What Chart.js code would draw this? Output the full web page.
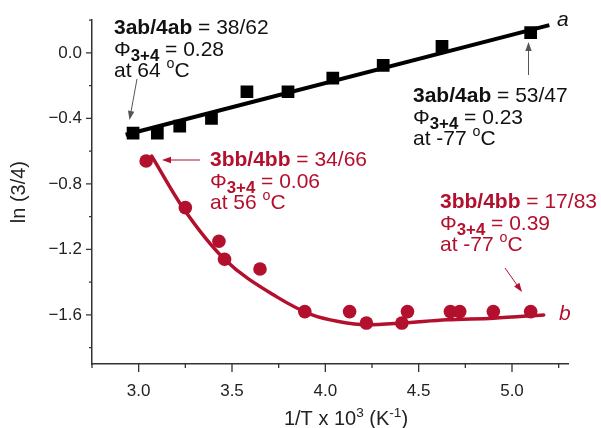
<!DOCTYPE html>
<html>
<head>
<meta charset="utf-8">
<script src="https://cdn.jsdelivr.net/npm/chart.js@4/dist/chart.umd.min.js"></script>
<style>
  html, body { margin: 0; padding: 0; background: #fff; }
  #wrap { width: 601px; height: 428px; }
</style>
</head>
<body>
<div id="wrap"><canvas id="arrChart"></canvas></div>
<script>
// tick positions
const xTicks = [3.0, 3.5, 4.0, 4.5, 5.0];
const xMinor = [2.75, 3.25, 3.75, 4.25, 4.75, 5.25];
const yTicks = [0.0, -0.4, -0.8, -1.2, -1.6];
const yMinor = [0.2, -0.2, -0.6, -1.0, -1.4, -1.8];

// series a (squares) and its straight fit
const aX = [2.97, 3.10, 3.22, 3.39, 3.58, 3.80, 4.04, 4.31, 4.625, 5.10];
const aY = [-0.49, -0.49, -0.447, -0.40, -0.237, -0.237, -0.154, -0.076, 0.04, 0.124];
const aFitX = [2.93, 5.20];
const aFitY = [-0.50, 0.17];

// series b (circles) and its curved fit
const bX = [3.04, 3.25, 3.43, 3.46, 3.65, 3.89, 4.13, 4.22, 4.41, 4.44, 4.67, 4.72, 4.90, 5.10];
const bY = [-0.66, -0.945, -1.15, -1.26, -1.32, -1.58, -1.58, -1.65, -1.65, -1.58, -1.58, -1.58, -1.58, -1.58];
const bFitX = [3.07, 3.24, 3.46, 3.74, 3.93, 4.07, 4.22, 4.41, 4.65, 4.90, 5.17];
const bFitY = [-0.63, -0.95, -1.26, -1.49, -1.60, -1.64, -1.66, -1.65, -1.63, -1.62, -1.60];

const RED = '#b3102e';
const FONT = '"Liberation Sans", Arial, Helvetica, sans-serif';

function pts(xs, ys) {
	return xs.map((x, i) => ({ x: x, y: ys[i] }));
}

// draws a line of mixed text (bold / subscript / superscript parts)
function drawRich(ctx, x, y, runs, size, measureOnly) {
	let cx = x;
	for (const r of runs) {
		const fs = r.sub ? size * 0.8 : r.sup ? size * 0.68 : size;
		ctx.font = (r.b ? 'bold ' : '') + fs + 'px ' + FONT;
		const dy = r.sub ? size * 0.28 : r.sup ? -size * 0.42 : 0;
		if (!measureOnly) ctx.fillText(r.t, cx, y + dy);
		cx += ctx.measureText(r.t).width;
	}
	return cx - x;
}

function noteLines(pair, ratio, phi, temp) {
	return [
		[{ t: pair, b: true }, { t: ' = ' + ratio }],
		[{ t: 'Φ' }, { t: '3+4', b: true, sub: true }, { t: ' = ' + phi }],
		[{ t: 'at ' + temp + ' ' }, { t: 'o', sup: true }, { t: 'C' }],
	];
}

function arrow(ctx, x1, y1, x2, y2, color, w) {
	const ang = Math.atan2(y2 - y1, x2 - x1);
	const len = 9, hw = 3.2;
	ctx.strokeStyle = color;
	ctx.fillStyle = color;
	ctx.lineWidth = w;
	ctx.beginPath();
	ctx.moveTo(x1, y1);
	ctx.lineTo(x2 - Math.cos(ang) * len * 0.8, y2 - Math.sin(ang) * len * 0.8);
	ctx.stroke();
	ctx.beginPath();
	ctx.moveTo(x2, y2);
	ctx.lineTo(x2 - Math.cos(ang) * len - Math.sin(ang) * hw, y2 - Math.sin(ang) * len + Math.cos(ang) * hw);
	ctx.lineTo(x2 - Math.cos(ang) * len + Math.sin(ang) * hw, y2 - Math.sin(ang) * len - Math.cos(ang) * hw);
	ctx.closePath();
	ctx.fill();
}

const notes = [
	{ x: 114, y: 34, color: '#111', lines: noteLines('3ab/4ab', '38/62', '0.28', '64') },
	{ x: 413, y: 102, color: '#111', lines: noteLines('3ab/4ab', '53/47', '0.23', '-77') },
	{ x: 210, y: 166, color: RED, lines: noteLines('3bb/4bb', '34/66', '0.06', '56') },
	{ x: 440, y: 208, color: RED, lines: noteLines('3bb/4bb', '17/83', '0.39', '-77') },
];

const decor = {
	id: 'decor',
	afterDraw(chart) {
		const ctx = chart.ctx;
		const xs = chart.scales.x, ys = chart.scales.y;
		const area = chart.chartArea;
		ctx.save();
		// tick marks
		ctx.strokeStyle = '#333';
		ctx.lineWidth = 1.3;
		ctx.beginPath();
		xTicks.forEach(v => { const p = xs.getPixelForValue(v); ctx.moveTo(p, area.bottom); ctx.lineTo(p, area.bottom + 8); });
		xMinor.forEach(v => { const p = xs.getPixelForValue(v); ctx.moveTo(p, area.bottom); ctx.lineTo(p, area.bottom + 4); });
		yTicks.forEach(v => { const p = ys.getPixelForValue(v); ctx.moveTo(area.left, p); ctx.lineTo(area.left - 6, p); });
		yMinor.forEach(v => { const p = ys.getPixelForValue(v); ctx.moveTo(area.left, p); ctx.lineTo(area.left - 3, p); });
		ctx.stroke();

		// axis titles
		ctx.fillStyle = '#222';
		ctx.textBaseline = 'alphabetic';
		ctx.textAlign = 'left';
		const xt = [{ t: '1/T x 10' }, { t: '3', sup: true }, { t: ' (K' }, { t: '-1', sup: true }, { t: ')' }];
		const w = drawRich(ctx, 0, 0, xt, 20, true);
		drawRich(ctx, 346 - w / 2, 425, xt, 20);

		ctx.save();
		ctx.translate(25, (area.top + area.bottom) / 2);
		ctx.rotate(-Math.PI / 2);
		ctx.textAlign = 'center';
		ctx.font = '20px ' + FONT;
		ctx.fillText('ln (3/4)', 0, 0);
		ctx.restore();

		// series labels
		ctx.font = 'italic 21px ' + FONT;
		ctx.fillStyle = '#111';
		ctx.fillText('a', 557, 26);
		ctx.fillStyle = RED;
		ctx.fillText('b', 559, 320);

		// annotations
		ctx.textAlign = 'left';
		notes.forEach(n => {
			ctx.fillStyle = n.color;
			n.lines.forEach((ln, i) => drawRich(ctx, n.x, n.y + i * 21.5, ln, 21));
		});
		arrow(ctx, 137, 79, 129.5, 120, '#555', 1);
		arrow(ctx, 528.5, 75, 528.5, 42, '#555', 1);
		arrow(ctx, 200, 160, 162, 160, RED, 1);
		arrow(ctx, 505, 268, 522, 292, RED, 1);
		ctx.restore();
	}
};

const tickFont = { family: FONT, size: 17 };

new Chart(document.getElementById('arrChart').getContext('2d'), {
	type: 'scatter',
	data: {
		datasets: [
			{ data: pts(aX, aY), pointStyle: 'rect', pointRadius: 9, backgroundColor: '#000', borderColor: '#000', borderWidth: 0, order: 0 },
			{ data: pts(bX, bY), pointStyle: 'circle', pointRadius: 6.8, backgroundColor: RED, borderColor: RED, borderWidth: 0, order: 0 },
			{ type: 'line', data: pts(aFitX, aFitY), showLine: true, pointRadius: 0, borderColor: '#000', borderWidth: 4, fill: false, order: 1 },
			{ type: 'line', data: pts(bFitX, bFitY), showLine: true, pointRadius: 0, borderColor: RED, borderWidth: 3.5, tension: 0.4, cubicInterpolationMode: 'monotone', fill: false, borderCapStyle: 'round', order: 1 },
		],
	},
	options: {
		responsive: true,
		maintainAspectRatio: false,
		animation: false,
		layout: { padding: { top: 15, right: 33, left: 0, bottom: 0 } },
		plugins: { legend: { display: false }, tooltip: { enabled: false } },
		scales: {
			x: {
				type: 'linear',
				min: 2.75,
				max: 5.3,
				afterBuildTicks: s => { s.ticks = xTicks.map(v => ({ value: v })); },
				afterFit: s => { s.height = 64; },
				ticks: { font: tickFont, color: '#222', padding: 17, maxRotation: 0, callback: v => v.toFixed(1) },
				grid: { display: false, drawTicks: false },
				border: { color: '#333', width: 1.5 },
			},
			y: {
				type: 'linear',
				min: -1.9,
				max: 0.2,
				afterBuildTicks: s => { s.ticks = yTicks.map(v => ({ value: v })); },
				afterFit: s => { s.width = 92; },
				ticks: { font: tickFont, color: '#222', padding: 10, callback: v => (v === 0 ? '0.0' : '\u2212' + Math.abs(v).toFixed(1)) },
				grid: { display: false, drawTicks: false },
				border: { color: '#333', width: 1.5 },
			},
		},
	},
	plugins: [decor],
});
</script>
</body>
</html>
